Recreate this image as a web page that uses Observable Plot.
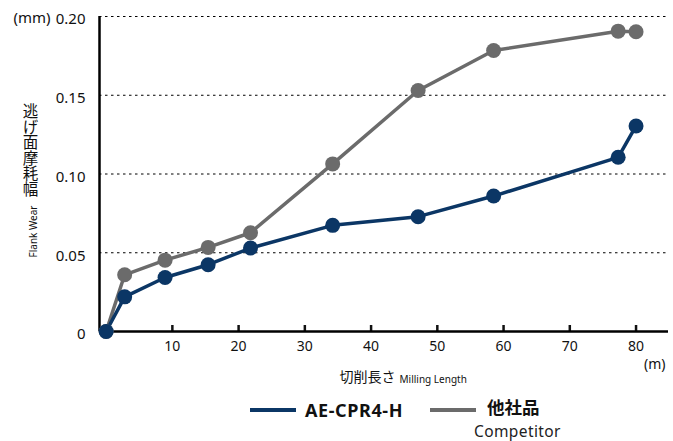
<!DOCTYPE html>
<html><head><meta charset="utf-8">
<script src="https://cdn.jsdelivr.net/npm/d3@7"></script>
<script src="https://cdn.jsdelivr.net/npm/@observablehq/plot@0.6"></script>
<style>
body{margin:0;background:#fff;font-family:"Noto Sans","Noto Sans CJK JP",sans-serif;}
#wrap{position:relative;width:673px;height:441px;}
#legend{position:absolute;left:0;top:390px;width:673px;height:51px;}
.sw{position:absolute;height:4px;}
.lb{position:absolute;font-weight:bold;font-size:18px;color:#111;line-height:18px;}
</style></head>
<body><div id="wrap"><div id="chart"></div>
<div id="legend">
 <div class="sw" style="left:250px;top:18px;width:46px;background:#0b3665"></div>
 <div class="lb" style="left:305px;top:11px;letter-spacing:0.6px;">AE-CPR4-H</div>
 <div class="sw" style="left:430px;top:18px;width:46px;background:#6b6b6b"></div>
 <div class="lb" style="left:487px;top:8px;font-size:17.5px;font-family:'Noto Sans CJK JP';">他社品</div>
 <div style="position:absolute;left:474px;top:32px;font-size:15.5px;line-height:18px;letter-spacing:0.4px;color:#222;">Competitor</div>
</div></div>
<script>
const seriesNames = ["AE-CPR4-H", "他社品"];
const lengthAE = [0, 2.8, 8.9, 15.4, 21.8, 34.2, 47.1, 58.5, 77.3, 80];
const wearAE = [0, 0.022, 0.0343, 0.0424, 0.053, 0.0674, 0.0729, 0.086, 0.1106, 0.1305];
const lengthComp = [0, 2.8, 8.9, 15.4, 21.8, 34.2, 47.1, 58.5, 77.3, 80];
const wearComp = [0, 0.036, 0.0453, 0.0534, 0.0627, 0.1064, 0.153, 0.1784, 0.1907, 0.1903];
const xTicks = [10, 20, 30, 40, 50, 60, 70, 80];
const yTicks = [0, 0.05, 0.10, 0.15, 0.20];
const xDomain = [-1, 84.9];
const colors = ["#0b3665", "#6b6b6b"];
const yTitleJa = "逃げ面摩耗幅";

const data = [
  ...lengthComp.map((x, i) => ({series: seriesNames[1], x, y: wearComp[i]})),
  ...lengthAE.map((x, i) => ({series: seriesNames[0], x, y: wearAE[i]}))
];

const chart = Plot.plot({
  width: 673, height: 390,
  marginLeft: 99, marginRight: 5, marginTop: 16, marginBottom: 59,
  style: {fontFamily: "'Noto Sans','Noto Sans CJK JP',sans-serif", color: "#111"},
  x: {domain: xDomain},
  y: {domain: [0, 0.2]},
  color: {domain: seriesNames, range: colors},
  marks: [
    Plot.gridY(yTicks.filter(d => d > 0), {stroke: "#000", strokeOpacity: 1, strokeDasharray: "2.5,3.5", strokeWidth: 1}),
    Plot.axisY(yTicks, {tickSize: 0, tickPadding: 14, dy: 3, fontSize: 15, label: null, tickFormat: d => d === 0 ? "0" : d.toFixed(2)}),
    Plot.axisX(xTicks, {tickSize: -6, tickPadding: 16, fontSize: 14, strokeWidth: 2.5, label: null}),
    Plot.ruleY([0], {stroke: "#000", strokeWidth: 2.5}),
    Plot.ruleX([xDomain[0]], {stroke: "#000", strokeWidth: 2.5}),
    Plot.line(data, {x: "x", y: "y", z: "series", stroke: "series", strokeWidth: 3.5}),
    Plot.dot(data, {x: "x", y: "y", fill: "series", r: 7.5}),
    Plot.text(["(mm)"], {frameAnchor: "top-left", dx: -86, dy: -4, fontSize: 15, textAnchor: "start"}),
    Plot.text([yTitleJa], {frameAnchor: "top-left", dx: -69, dy: 76, fontSize: 15.5, fontFamily: "'Noto Sans CJK JP'", textAnchor: "start"}),
    Plot.text(["Flank Wear"], {frameAnchor: "top-left", dx: -70, dy: 241, fontSize: 10, rotate: -90, textAnchor: "start"}),
    Plot.text(["切削長さ"], {frameAnchor: "bottom-left", dx: 296, dy: 50, fontSize: 14, textAnchor: "end", fontFamily: "'Noto Sans CJK JP'"}),
    Plot.text(["Milling Length"], {frameAnchor: "bottom-left", dx: 300, dy: 51, fontSize: 10, textAnchor: "start"}),
    Plot.text(["(m)"], {frameAnchor: "bottom-right", dx: -3, dy: 37, fontSize: 14, textAnchor: "end"})
  ]
});
d3.select(chart).selectAll("text").filter(function() { return this.textContent === yTitleJa; })
  .attr("dy", null)
  .style("writing-mode", "vertical-rl")
  .style("text-orientation", "upright");
document.getElementById("chart").appendChild(chart);
</script></body></html>
